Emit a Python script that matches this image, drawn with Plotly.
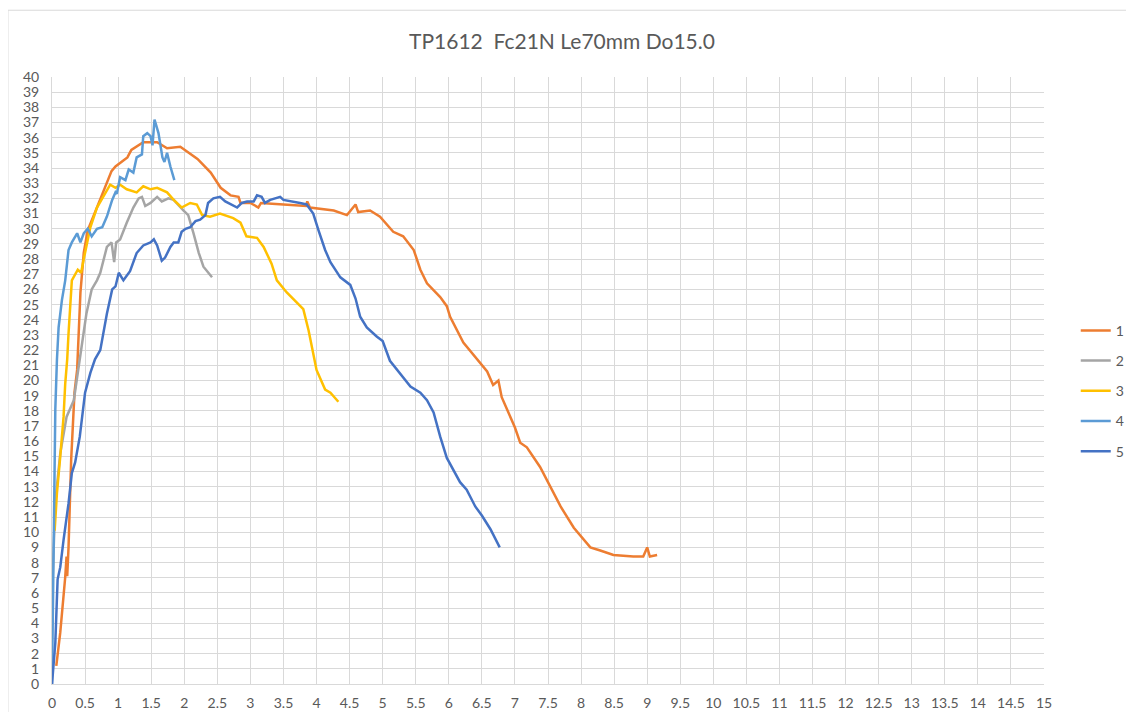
import plotly.graph_objects as go

title_text = "TP1612  Fc21N Le70mm Do15.0"
series_names = ["1", "2", "3", "4", "5"]
series_colors = ["#ED7D31", "#A5A5A5", "#FFC000", "#5B9BD5", "#4472C4"]

s1_x = [0.065, 0.125, 0.2, 0.22, 0.23, 0.25, 0.29, 0.34, 0.38, 0.43, 0.48, 0.54, 0.68, 0.83, 0.9, 0.96, 1.14, 1.2, 1.38,
        1.59, 1.74, 1.94, 2.2, 2.4, 2.55, 2.70, 2.82, 2.85, 3.0, 3.12, 3.16, 3.5, 3.84, 3.86, 3.9, 4.26, 4.46, 4.59,
        4.63, 4.81, 4.96, 5.16, 5.31, 5.47, 5.57, 5.67, 5.87, 5.97, 6.02, 6.22, 6.47, 6.58, 6.67, 6.75, 6.8, 7.0,
        7.08, 7.18, 7.38, 7.53, 7.69, 7.89, 8.14, 8.29, 8.49, 8.79, 8.94, 9.0, 9.04, 9.15]
s1_y = [1.2, 3.4, 7.05, 8.4, 7.1, 9.0, 14.8, 19.2, 20.7, 25.8, 28.4, 29.9, 31.4, 33.0, 33.8, 34.1, 34.7, 35.2, 35.7,
        35.7, 35.3, 35.4, 34.6, 33.7, 32.7, 32.2, 32.1, 31.7, 31.7, 31.4, 31.7, 31.6, 31.5, 31.8, 31.4, 31.2, 30.9, 31.6,
        31.1, 31.2, 30.8, 29.8, 29.5, 28.6, 27.3, 26.4, 25.5, 24.9, 24.2, 22.5, 21.2, 20.6, 19.7, 20.0, 18.9, 16.9,
        15.9, 15.6, 14.3, 13.0, 11.7, 10.3, 9.0, 8.8, 8.5, 8.4, 8.4, 9.0, 8.4, 8.5]

s2_x = [0.01, 0.05, 0.125, 0.22, 0.33, 0.43, 0.52, 0.6, 0.68, 0.73, 0.83, 0.9, 0.94, 0.97, 1.03, 1.13, 1.23, 1.31, 1.36,
        1.41, 1.49, 1.59, 1.66, 1.76, 1.84, 1.99, 2.06, 2.14, 2.22, 2.29, 2.42]
s2_y = [7.0, 12.0, 15.2, 17.6, 18.7, 21.6, 24.4, 26.0, 26.6, 27.1, 28.8, 29.1, 27.8, 29.1, 29.3, 30.4, 31.4, 32.0, 32.1,
        31.5, 31.7, 32.1, 31.8, 32.0, 31.9, 31.2, 30.9, 29.7, 28.4, 27.5, 26.8]

s3_x = [0.04, 0.075, 0.125, 0.175, 0.2, 0.23, 0.25, 0.3, 0.39, 0.44, 0.48, 0.58, 0.68, 0.73, 0.81, 0.88, 0.96, 1.03,
        1.13, 1.28, 1.38, 1.49, 1.59, 1.74, 1.84, 1.96, 2.09, 2.19, 2.27, 2.39, 2.54, 2.74, 2.85, 2.94, 3.1, 3.2, 3.32,
        3.4, 3.55, 3.7, 3.8, 3.88, 4.0, 4.13, 4.21, 4.33]
s3_y = [10.1, 12.6, 15.0, 17.6, 19.8, 21.4, 23.1, 26.6, 27.3, 27.1, 28.0, 30.1, 31.4, 31.8, 32.4, 32.9, 32.7, 32.9,
        32.6, 32.4, 32.8, 32.6, 32.7, 32.4, 31.9, 31.4, 31.7, 31.6, 30.9, 30.8, 31.0, 30.7, 30.4, 29.5, 29.4, 28.8, 27.7,
        26.6, 25.8, 25.1, 24.7, 23.3, 20.7, 19.4, 19.2, 18.6]

s4_x = [0.0, 0.025, 0.05, 0.075, 0.1, 0.15, 0.2, 0.25, 0.3, 0.38, 0.43, 0.48, 0.54, 0.6, 0.68, 0.76, 0.83, 0.91, 0.96,
        0.98, 1.03, 1.11, 1.16, 1.23, 1.28, 1.36, 1.38, 1.44, 1.49, 1.52, 1.55, 1.61, 1.67, 1.7, 1.74, 1.79, 1.85]
s4_y = [0.0, 10.3, 18.1, 21.4, 23.5, 25.3, 26.6, 28.6, 29.1, 29.7, 29.1, 29.7, 30.0, 29.5, 30.0, 30.1, 30.8, 31.9, 32.4,
        32.3, 33.4, 33.2, 33.9, 33.7, 34.7, 34.9, 36.1, 36.3, 36.1, 35.5, 37.2, 36.3, 34.7, 34.4, 35.0, 34.1, 33.2]

s5_x = [0.0, 0.05, 0.085, 0.125, 0.175, 0.25, 0.3, 0.35, 0.42, 0.45, 0.5, 0.58, 0.65, 0.73, 0.83, 0.91, 0.96, 1.01,
        1.08, 1.18, 1.28, 1.38, 1.49, 1.54, 1.59, 1.66, 1.71, 1.79, 1.84, 1.91, 1.96, 2.02, 2.09, 2.17, 2.24, 2.32,
        2.36, 2.44, 2.54, 2.62, 2.7, 2.8, 2.87, 2.95, 3.05, 3.1, 3.17, 3.22, 3.3, 3.45, 3.5, 3.65, 3.75, 3.85, 3.95,
        4.03, 4.13, 4.21, 4.36, 4.51, 4.59, 4.66, 4.76, 4.91, 5.0, 5.11, 5.26, 5.42, 5.57, 5.67, 5.77, 5.87, 5.97,
        6.17, 6.27, 6.4, 6.5, 6.63, 6.77]
s5_y = [0.0, 2.7, 6.9, 7.7, 9.5, 11.9, 13.9, 14.6, 16.3, 17.4, 19.2, 20.5, 21.4, 22.0, 24.4, 26.0, 26.2, 27.1,
        26.6, 27.2, 28.4, 28.9, 29.1, 29.3, 28.9, 27.9, 28.1, 28.8, 29.1, 29.1, 29.8, 30.0, 30.1, 30.5, 30.6, 30.9,
        31.7, 32.0, 32.1, 31.8, 31.6, 31.4, 31.7, 31.8, 31.8, 32.2, 32.1, 31.7, 31.9, 32.1, 31.9, 31.8, 31.7, 31.6, 31.0,
        29.9, 28.6, 27.8, 26.8, 26.3, 25.4, 24.2, 23.5, 22.9, 22.6, 21.3, 20.5, 19.6, 19.2, 18.7, 17.9, 16.3, 14.9,
        13.3, 12.8, 11.7, 11.1, 10.2, 9.0]

x_tick_vals = [i * 0.5 for i in range(31)]
x_tick_text = ["0", "0.5", "1", "1.5", "2", "2.5", "3", "3.5", "4", "4.5", "5", "5.5", "6", "6.5", "7", "7.5",
               "8", "8.5", "9", "9.5", "10", "10.5", "11", "11.5", "12", "12.5", "13", "13.5", "14", "14.5", "15"]
y_tick_vals = list(range(41))

xs = [s1_x, s2_x, s3_x, s4_x, s5_x]
ys = [s1_y, s2_y, s3_y, s4_y, s5_y]

FONT = "Lato, 'Open Sans', sans-serif"
TXT = "#595959"

fig = go.Figure()
for name, color, x, y in zip(series_names, series_colors, xs, ys):
    fig.add_trace(go.Scatter(x=x, y=y, mode="lines", name=name, legendgroup=name,
                             line=dict(color=color, width=2.5)))

fig.update_layout(
    width=1118, height=704,
    paper_bgcolor="white", plot_bgcolor="white",
    margin=dict(l=44, r=82, t=69, b=28, autoexpand=False),
    title=dict(text=title_text, x=0.4955, xref="container", xanchor="center", y=0.952, yanchor="middle",
               font=dict(family=FONT, size=21, color=TXT)),
    font=dict(family=FONT, size=14, color=TXT),
    legend=dict(x=1.032, xanchor="left", y=0.483, yanchor="middle", tracegroupgap=9,
                font=dict(family=FONT, size=14, color=TXT), bgcolor="rgba(0,0,0,0)"),
    xaxis=dict(range=[0, 15], tickvals=x_tick_vals, ticktext=x_tick_text, showgrid=True, automargin=False,
               gridcolor="#d9d9d9", gridwidth=1, zeroline=False, showline=True, linecolor="#d9d9d9",
               linewidth=1, ticks="", ticklabelstandoff=6, tickfont=dict(size=14, color=TXT)),
    yaxis=dict(range=[0, 40], tickvals=y_tick_vals, showgrid=True, gridcolor="#d9d9d9", gridwidth=1,
               automargin=False, zeroline=False, showline=True, linecolor="#d9d9d9", linewidth=1, ticks="",
               ticklabelstandoff=9, tickfont=dict(size=14, color=TXT)),
    showlegend=True,
)

# outer chart-area border
fig.add_shape(type="rect", xref="paper", yref="paper", x0=-0.0444, y0=-0.1, x1=1.2, y1=1.110,
              line=dict(color="#d9d9d9", width=1), fillcolor="rgba(0,0,0,0)", layer="below")

fig.write_html("out.html")
